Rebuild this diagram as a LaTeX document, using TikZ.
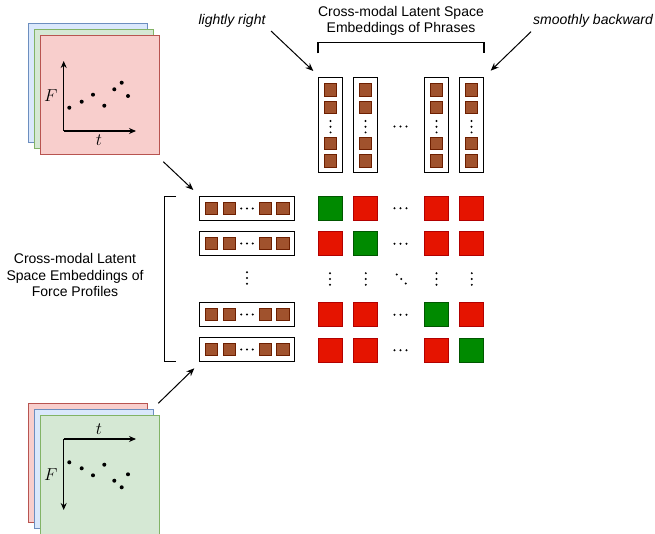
\documentclass[tikz,border=0pt]{standalone}
\usepackage{fontspec}
\setmainfont{Liberation Sans}
\usetikzlibrary{arrows.meta,calc}
\definecolor{bluefill}{HTML}{DAE8FC}\definecolor{bluedraw}{HTML}{6C8EBF}
\definecolor{greenfill}{HTML}{D5E8D4}\definecolor{greendraw}{HTML}{82B366}
\definecolor{redfill}{HTML}{F8CECC}\definecolor{reddraw}{HTML}{B85450}
\definecolor{siennafill}{HTML}{A0522D}\definecolor{siennadraw}{HTML}{6D1F00}
\definecolor{goodfill}{HTML}{008A00}\definecolor{gooddraw}{HTML}{005700}
\definecolor{badfill}{HTML}{E51400}\definecolor{baddraw}{HTML}{B20000}
\tikzset{
  plate/.style={draw, line width=1pt, minimum size=119pt, inner sep=0pt},
  bluep/.style={plate, fill=bluefill, draw=bluedraw},
  greenp/.style={plate, fill=greenfill, draw=greendraw},
  redp/.style={plate, fill=redfill, draw=reddraw},
  emb/.style={draw=siennadraw, fill=siennafill, line width=1pt, minimum size=12.5pt, inner sep=0pt},
  rowbox/.style={draw, line width=1.1pt, minimum width=95pt, minimum height=24pt, inner sep=0pt},
  colbox/.style={draw, line width=1.1pt, minimum width=24pt, minimum height=95pt, inner sep=0pt},
  good/.style={draw=gooddraw, fill=goodfill, line width=1pt, minimum size=24pt, inner sep=0pt},
  bad/.style={draw=baddraw, fill=badfill, line width=1pt, minimum size=24pt, inner sep=0pt},
  axis/.style={line width=1.3pt, -{Stealth[length=7pt,width=6pt]}},
  conn/.style={line width=1pt, -{Stealth[length=8pt,width=6.5pt]}},
  brk/.style={line width=1.2pt},
  lbl/.style={font=\fontsize{14}{16.7}\selectfont, align=center, inner sep=0pt},
  ilbl/.style={font=\fontsize{14}{16.7}\selectfont\itshape, inner sep=0pt},
  ax/.style={font=\fontsize{16}{18}\selectfont, inner sep=0pt},
  dotp/.style={circle, fill, inner sep=0pt, minimum size=4pt}
}
\newcommand{\hdotsat}[3]{% x y spacing
  \fill (#1-#3,#2) circle (1.1pt) (#1,#2) circle (1.1pt) (#1+#3,#2) circle (1.1pt);}
\newcommand{\vdotsat}[3]{%
  \fill (#1,#2-#3) circle (1.1pt) (#1,#2) circle (1.1pt) (#1,#2+#3) circle (1.1pt);}
\begin{document}
\begin{tikzpicture}[x=1pt,y=-1pt]
\useasboundingbox (0,0) rectangle (655,534);

% ---- top-left stack ----
\node[bluep]  (tb) at (87.5,83.5) {};
\node[greenp] (tg) at (93.5,89.5) {};
\node[redp]   (tr) at (99.5,95.5) {};
\coordinate (to) at (63.7,131);
\coordinate (tyend) at (63.7,61);
\coordinate (txend) at (136,131);
\draw[axis] (to) -- (tyend);
\draw[axis] (to) -- (txend);
\node[ax] (tF) at (50.7,96) {$F$};
\node[ax] (tt) at (99,140) {$t$};
\foreach \i/\x/\y in {1/69.3/107.7,2/81.7/101.7,3/93/94.7,4/104.3/105.7,5/114.3/89.3,6/121.7/82.7,7/128/96}
  \node[dotp] (td\i) at (\x,\y) {};

% ---- bottom-left stack ----
\node[redp]   (br) at (87.5,462.5) {};
\node[bluep]  (bb) at (93.5,468.5) {};
\node[greenp] (bg) at (99.5,474.5) {};
\coordinate (bo) at (63.7,439);
\coordinate (byend) at (63.7,510);
\coordinate (bxend) at (136,439);
\draw[axis] (bo) -- (byend);
\draw[axis] (bo) -- (bxend);
\node[ax] (bF) at (50.7,475) {$F$};
\node[ax] (bt) at (99,429) {$t$};
\foreach \i/\x/\y in {1/69.3/462.3,2/81.7/468.3,3/93/475.3,4/104.3/464.7,5/114.3/480.7,6/121.7/487.3,7/128/474.3}
  \node[dotp] (bd\i) at (\x,\y) {};

% ---- row embeddings ----
\foreach \r/\y in {1/208.5,2/243.5,3/314.5,4/349.5}{
  \node[rowbox] (row\r) at (247,\y) {};
  \node[emb] (row\r a) at (211.7,\y) {};
  \node[emb] (row\r b) at (229.7,\y) {};
  \node[emb] (row\r c) at (265.3,\y) {};
  \node[emb] (row\r d) at (283,\y) {};
  \hdotsat{247}{\y}{5.8}
}
\vdotsat{247}{278}{5.8}

% ---- column embeddings ----
\foreach \c/\x in {1/330.5,2/365.5,4/436.5,5/471.5}{
  \node[colbox] (col\c) at (\x,125) {};
  \node[emb] (col\c a) at (\x,90) {};
  \node[emb] (col\c b) at (\x,107.7) {};
  \node[emb] (col\c c) at (\x,143.3) {};
  \node[emb] (col\c d) at (\x,161) {};
  \vdotsat{\x}{126.7}{5.7}
}
\hdotsat{400.5}{126.5}{6}

% ---- similarity matrix ----
\foreach \r/\y/\g in {1/208.3/1,2/243.8/2,3/314.8/4,4/350.2/5}{
  \foreach \c/\x in {1/330,2/365.8,4/436.5,5/471.8}{
    \ifnum\c=\g
      \node[good] (m\r\c) at (\x,\y) {};
    \else
      \node[bad] (m\r\c) at (\x,\y) {};
    \fi
  }
  \hdotsat{400.5}{\y}{6}
}
\foreach \x in {330,365.8,436.5,471.8}{\vdotsat{\x}{279}{5.8}}
\fill (396.7,274.5) circle (1.1pt) (401.2,279) circle (1.1pt) (405.7,283.5) circle (1.1pt);

% ---- brackets ----
\draw[brk] (176,196.5) -- (164.5,196.5) -- (164.5,361.5) -- (176,361.5);
\draw[brk] (318,53.5) -- (318,42.5) -- (484,42.5) -- (484,53.5);

% ---- labels ----
\node[lbl] (phr) at (401,21) {Cross-modal Latent Space\\Embeddings of Phrases};
\node[lbl] (frc) at (75,275) {Cross-modal Latent\\Space Embeddings of\\Force Profiles};
\node[ilbl] (lr) at (232,21) {lightly right};
\node[ilbl] (sb) at (593,21) {smoothly backward};

% ---- connectors ----
\coordinate (a1s) at (163.3,161.7);
\coordinate (a1e) at (193.3,190);
\coordinate (a2s) at (158.3,403.3);
\coordinate (a2e) at (194.3,368.3);
\coordinate (a3s) at (271,31);
\coordinate (a3e) at (313.3,71);
\coordinate (a4s) at (531,31.7);
\coordinate (a4e) at (490.7,70.7);
\draw[conn] (a1s) -- (a1e);
\draw[conn] (a2s) -- (a2e);
\draw[conn] (a3s) -- (a3e);
\draw[conn] (a4s) -- (a4e);
\end{tikzpicture}
\end{document}
